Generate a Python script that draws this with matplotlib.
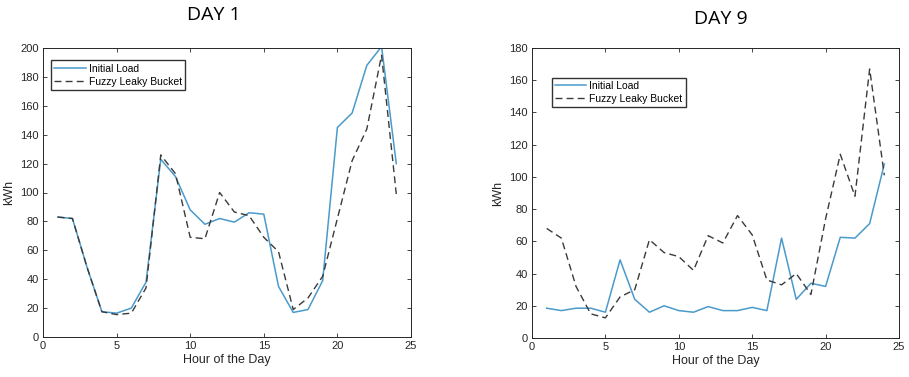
import matplotlib
matplotlib.use("Agg")
import matplotlib.pyplot as plt

plt.rcParams['font.family'] = ['Liberation Sans', 'DejaVu Sans']

hours = list(range(1, 25))

# DAY 1
day1_initial = [83, 82, 48, 17.5, 16.5, 20, 38, 123, 111, 88, 78, 82,
                79.5, 86, 85, 35, 17, 19, 39, 145, 155, 188, 201, 120]
day1_fuzzy = [83, 82, 48, 17.5, 15.5, 16.5, 34, 126, 113, 69, 68, 100,
              86.5, 84, 69, 59, 19, 27, 42, 82, 122, 144, 195, 99]

# DAY 9
day9_initial = [18.5, 17, 18.5, 18.5, 16, 48.5, 24, 16, 20, 17, 16, 19.5,
                17, 17, 19, 17, 62, 24, 34, 32, 62.5, 62, 71, 108]
day9_fuzzy = [68, 62, 32, 15, 12.5, 25.5, 30, 61, 53, 50.5, 42, 63.5,
              59, 76, 64, 36, 33, 40, 27, 74, 114, 88, 167, 101]

blue = "#4a9acb"
dark = "#3a3a3a"

fig = plt.figure(figsize=(9.09, 3.77), dpi=100)
ax1 = fig.add_axes([43/909, 1-337/377, 368/909, 289/377])
ax2 = fig.add_axes([532/909, 1-338/377, 367/909, 290/377])


def style(ax, ymax, step):
    ax.set_xlim(0, 25)
    ax.set_ylim(0, ymax)
    ax.set_xticks(range(0, 26, 5))
    ax.set_yticks(range(0, ymax + 1, step))
    ax.tick_params(direction='in', top=True, right=True, length=3,
                   width=0.6, labelsize=8, colors='#262626', pad=3)
    for s in ax.spines.values():
        s.set_color('#262626')
        s.set_linewidth(0.7)
    ax.set_xlabel("Hour of the Day", fontsize=9, color='#262626', labelpad=2)
    ax.set_ylabel("kWh", fontsize=9, color='#262626', labelpad=4)


leg_kw = dict(loc='upper left', fontsize=7.5, fancybox=False, edgecolor='#333333',
              framealpha=1, borderpad=0.3, handlelength=3.0, handletextpad=0.3,
              labelspacing=0.3)

ax1.plot(hours, day1_initial, color=blue, lw=1.1, label="Initial Load")
ax1.plot(hours, day1_fuzzy, color=dark, lw=1.0, ls=(0, (5, 3)), label="Fuzzy Leaky Bucket")
style(ax1, 200, 20)
ax1.legend(bbox_to_anchor=(0.008, 0.975), **leg_kw)

ax2.plot(hours, day9_initial, color=blue, lw=1.1, label="Initial Load")
ax2.plot(hours, day9_fuzzy, color=dark, lw=1.0, ls=(0, (5, 3)), label="Fuzzy Leaky Bucket")
style(ax2, 180, 20)
ax2.legend(bbox_to_anchor=(0.04, 0.915), **leg_kw)

fig.text(214/909, 1-15/377, "DAY 1", fontsize=14, family=['Open Sans', 'DejaVu Sans'],
         ha='center', va='center')
fig.text(721/909, 1-19/377, "DAY 9", fontsize=14, family=['Open Sans', 'DejaVu Sans'],
         ha='center', va='center')

fig.savefig("out.png", dpi=100)
